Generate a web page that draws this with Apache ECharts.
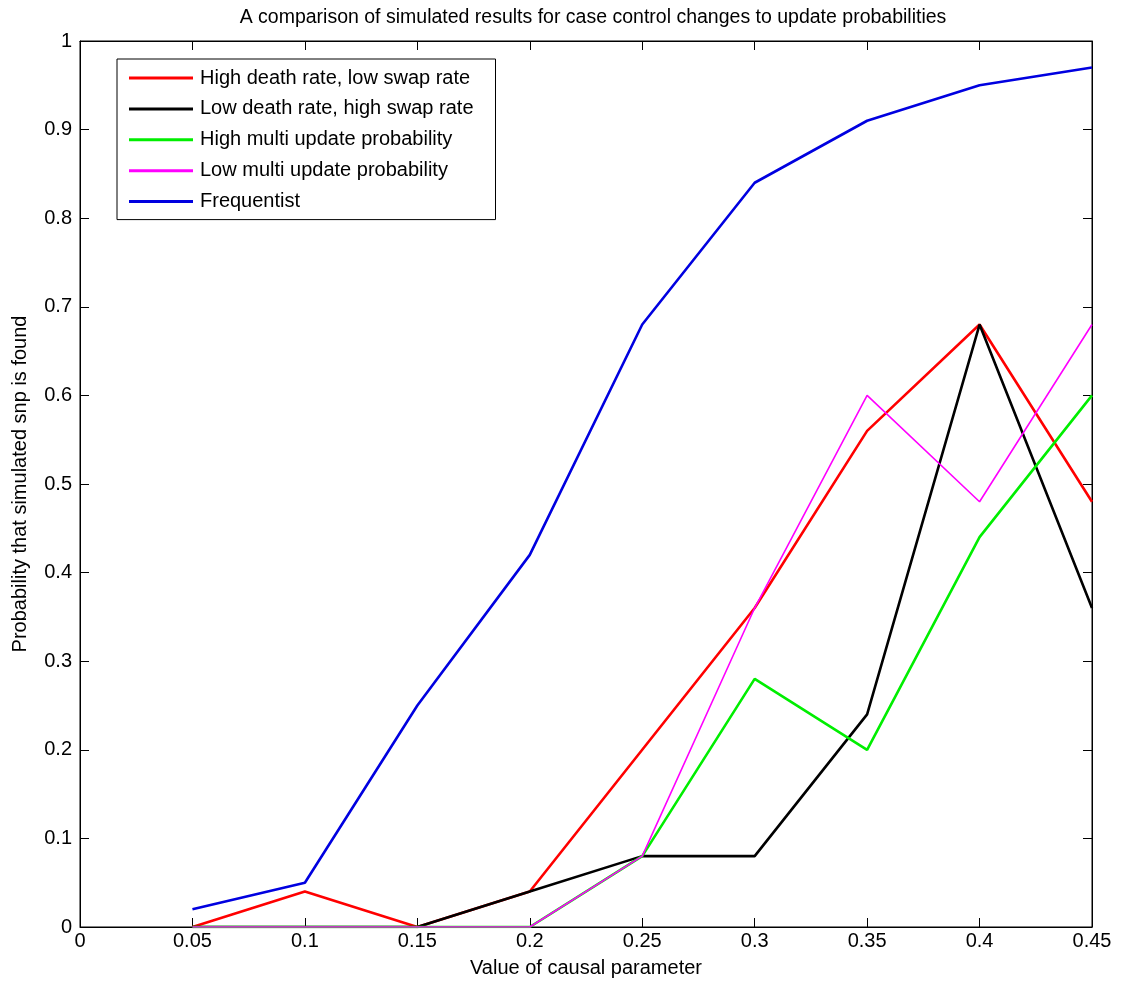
<!DOCTYPE html>
<html>
<head>
<meta charset="utf-8">
<script src="https://cdn.jsdelivr.net/npm/echarts@6/dist/echarts.min.js"></script>
<style>
html,body{margin:0;padding:0;background:#fff;}
#chart{width:1124px;height:988px;}
</style>
</head>
<body>
<div id="chart"></div>
<script>
const xValues = [0.05, 0.1, 0.15, 0.2, 0.25, 0.3, 0.35, 0.4, 0.45];
const highDeath = [0, 0.04, 0, 0.04, 0.2, 0.36, 0.56, 0.68, 0.48];
const lowDeath = [0, 0, 0, 0.04, 0.08, 0.08, 0.24, 0.68, 0.36];
const highMulti = [0, 0, 0, 0, 0.08, 0.28, 0.2, 0.44, 0.6];
const lowMulti = [0, 0, 0, 0, 0.08, 0.36, 0.6, 0.48, 0.68];
const frequentist = [0.02, 0.05, 0.25, 0.42, 0.68, 0.84, 0.91, 0.95, 0.97];
const seriesNames = ['High death rate, low swap rate', 'Low death rate, high swap rate', 'High multi update probability', 'Low multi update probability', 'Frequentist'];
const seriesValues = [highDeath, lowDeath, highMulti, lowMulti, frequentist];
const seriesColors = ['#ff0000', '#000000', '#00ee00', '#ff00ff', '#0000e0'];
const seriesWidths = [2.6, 2.6, 2.6, 1.6, 2.6];

const font = "'Liberation Sans', Arial, sans-serif";

const chart = echarts.init(document.getElementById('chart'), null, {renderer: 'canvas'});
const fmt = v => String(+v.toFixed(2));

const series = seriesNames.map((name, i) => ({
  name: name,
  type: 'line',
  xAxisIndex: 0, yAxisIndex: 0,
  data: xValues.map((x, j) => [x, seriesValues[i][j]]),
  symbol: 'none',
  showSymbol: false,
  color: seriesColors[i],
  lineStyle: {color: seriesColors[i], width: seriesWidths[i]},
  z: 2 + i,
  animation: false
}));
series.push({
  name: 'frame', type: 'line', xAxisIndex: 1, yAxisIndex: 1,
  data: [], symbol: 'none', silent: true
});

const option = {
  animation: false,
  backgroundColor: '#ffffff',
  title: {
    text: 'A comparison of simulated results for case control changes to update probabilities',
    left: 588, top: 3, textAlign: 'center',
    textStyle: {fontFamily: font, fontSize: 19.5, fontWeight: 'normal', color: '#000'}
  },
  legend: {
    orient: 'vertical',
    left: 117, top: 59,
    padding: [7, 22, 6, 12],
    itemWidth: 64, itemHeight: 3, itemGap: 6.9,
    icon: 'rect',
    borderColor: '#000', borderWidth: 1,
    backgroundColor: '#fff',
    data: seriesNames,
    textStyle: {fontFamily: font, fontSize: 20, lineHeight: 24, color: '#000', padding: [0, 0, 0, 2]}
  },
  grid: {left: 80, right: 32, top: 41, bottom: 61, containLabel: false, show: true, borderColor: '#000', borderWidth: 1, backgroundColor: 'transparent'},
  xAxis: [{
    type: 'value', min: 0, max: 0.45, interval: 0.05, gridIndex: 0, position: 'bottom',
    name: 'Value of causal parameter', nameLocation: 'middle', nameGap: 31,
    nameTextStyle: {fontFamily: font, fontSize: 20, color: '#000'},
    axisLine: {show: true, onZero: false, lineStyle: {color: '#000', width: 1}},
    axisTick: {show: true, inside: true, length: 9, lineStyle: {color: '#000'}},
    axisLabel: {fontFamily: font, fontSize: 20, color: '#000', margin: 4, formatter: fmt},
    splitLine: {show: false}
  }, {
    type: 'value', min: 0, max: 0.45, interval: 0.05, gridIndex: 0, position: 'top',
    axisLine: {show: true, onZero: false, lineStyle: {color: '#000', width: 1}},
    axisTick: {show: true, inside: true, length: 9, lineStyle: {color: '#000'}},
    axisLabel: {show: false}, splitLine: {show: false}
  }],
  yAxis: [{
    type: 'value', min: 0, max: 1, interval: 0.1, gridIndex: 0, position: 'left',
    name: 'Probability that simulated snp is found', nameLocation: 'middle', nameGap: 50,
    nameTextStyle: {fontFamily: font, fontSize: 20, color: '#000'},
    axisLine: {show: true, onZero: false, lineStyle: {color: '#000', width: 1}},
    axisTick: {show: true, inside: true, length: 9, lineStyle: {color: '#000'}},
    axisLabel: {fontFamily: font, fontSize: 20, color: '#000', margin: 8, formatter: fmt},
    splitLine: {show: false}
  }, {
    type: 'value', min: 0, max: 1, interval: 0.1, gridIndex: 0, position: 'right',
    axisLine: {show: true, onZero: false, lineStyle: {color: '#000', width: 1}},
    axisTick: {show: true, inside: true, length: 9, lineStyle: {color: '#000'}},
    axisLabel: {show: false}, splitLine: {show: false}
  }],
  series: series
};
chart.setOption(option);
</script>
</body>
</html>
